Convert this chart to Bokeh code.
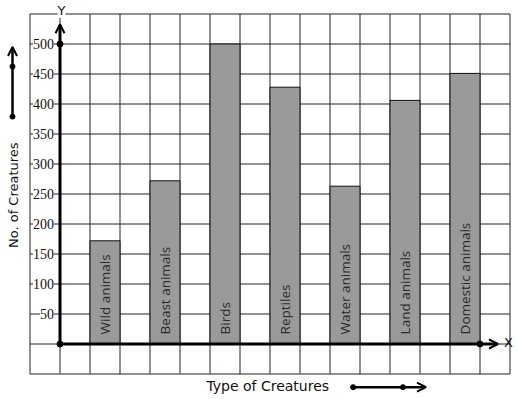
from bokeh.plotting import figure
from bokeh.models import Range1d, ColumnDataSource, LabelSet, Label, Arrow, OpenHead
from bokeh.core.properties import value
from bokeh.embed import file_html
from bokeh.resources import INLINE

# ---- data ----
categories = ["Wild animals", "Beast animals", "Birds", "Reptiles",
              "Water animals", "Land animals", "Domestic animals"]
counts = [172, 272, 500, 428, 263, 406, 451]
y_ticks = [50, 100, 150, 200, 250, 300, 350, 400, 450, 500]
y_tick_labels = ["50", "100", "150", "200", "250", "300", "350", "400", "450", "500"]
x_label = "Type of Creatures"
y_label = "No. of Creatures"

# ---- figure: frame fills the whole canvas, 30px per grid cell ----
W, H = 517, 399
PX = 30.0          # px per x unit
PY = 30.0 / 50.0   # px per y unit
x0 = -1 - 29.5 / PX
y1 = 343.5 / PY
p = figure(width=W, height=H, output_backend="svg", toolbar_location=None,
           x_range=Range1d(x0, x0 + W / PX), y_range=Range1d(y1 - H / PY, y1),
           min_border=0, x_axis_location=None, y_axis_location=None)
p.grid.visible = False
p.outline_line_color = None
p.background_fill_color = "white"
p.border_fill_color = "white"

# grid
gx = list(range(-1, 16))
gy = list(range(-50, 551, 50))
p.segment(x0=gx, y0=[-50] * len(gx), x1=gx, y1=[550] * len(gx), line_color="#222222", line_width=1)
p.segment(x0=[-1] * len(gy), y0=gy, x1=[15] * len(gy), y1=gy, line_color="#222222", line_width=1)

# bars
xs = [1.5 + 2 * i for i in range(len(categories))]
src = ColumnDataSource(dict(x=xs, top=counts, name=categories))
p.vbar(x="x", top="top", bottom=0, width=1, source=src,
       fill_color="#9a9a9a", line_color="#111111", line_width=1)
p.text(x="x", y=16, text="name", source=src, angle=1.5708,
       text_align="left", text_baseline="middle",
       text_font=value("Open Sans"), text_font_size="13.5px", text_color="#2a2a2a")

# tick labels with white background
tsrc = ColumnDataSource(dict(x=[-0.2] * len(y_ticks), y=y_ticks, t=y_tick_labels))
p.add_layout(LabelSet(x="x", y="y", text="t", source=tsrc, text_align="right",
                      text_baseline="middle", text_font="DejaVu Sans", text_font_size="14px",
                      text_color="#111111", background_fill_color="white"))

# axes
p.add_layout(Arrow(end=OpenHead(size=9, line_width=2, line_color="black"),
                   x_start=0, y_start=0, x_end=0, y_end=533, line_width=3, line_color="black"))
p.add_layout(Arrow(end=OpenHead(size=9, line_width=2, line_color="black"),
                   x_start=0, y_start=0, x_end=14.6, y_end=0, line_width=3, line_color="black"))
p.scatter(x=[0, 0, 14], y=[0, 500, 0], size=6, color="black")
p.add_layout(Label(x=0.05, y=556, text="Y", text_align="center", text_baseline="middle",
                   text_font="DejaVu Sans", text_font_size="13px", text_color="#111111",
                   background_fill_color="white"))
p.add_layout(Label(x=14.95, y=2, text="X", text_align="center", text_baseline="middle",
                   text_font="DejaVu Sans", text_font_size="13px", text_color="#111111"))

# y axis title and arrow
p.add_layout(Label(x=-1.55, y=248, text=y_label, angle=1.5708, text_align="center",
                   text_baseline="middle", text_font="DejaVu Sans", text_font_size="13px",
                   text_color="#111111"))
p.add_layout(Arrow(end=OpenHead(size=9, line_width=2, line_color="black"),
                   x_start=-1.583, y_start=379, x_end=-1.583, y_end=495, line_width=2.5, line_color="black"))
p.scatter(x=[-1.583, -1.583], y=[379, 462.5], size=5, color="black")

# x axis title and arrow
p.add_layout(Label(x=4.88, y=-70, text=x_label, text_align="left", text_baseline="middle",
                   text_font="DejaVu Sans", text_font_size="14px", text_color="#111111"))
p.add_layout(Arrow(end=OpenHead(size=9, line_width=2, line_color="black"),
                   x_start=9.77, y_start=-72, x_end=12.2, y_end=-72, line_width=2.5, line_color="black"))
p.scatter(x=[9.77, 11.43], y=[-72, -72], size=5, color="black")

open("out.html", "w").write(file_html(p, INLINE))
